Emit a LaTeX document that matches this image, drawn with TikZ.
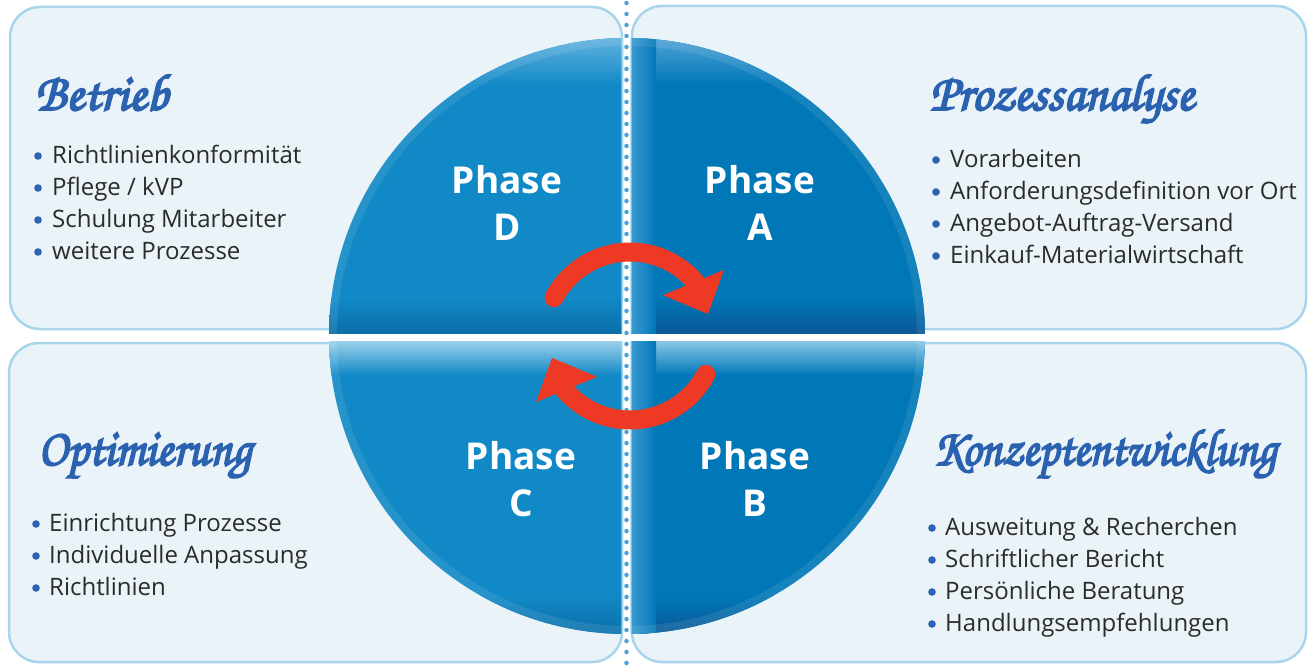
\documentclass[tikz,border=0pt]{standalone}
\usepackage{fontspec}
\usepackage{graphicx}
\setmainfont{Open Sans}
\newfontfamily\titlefont{texgyrechorus-mediumitalic}[Extension=.otf, FakeBold=3.5]
\usetikzlibrary{calc}
\definecolor{panelfill}{HTML}{EAF3F8}
\definecolor{panelborder}{HTML}{A9D5EC}
\definecolor{titleblue}{HTML}{2A62B0}
\definecolor{bulletblue}{HTML}{2B63B5}
\definecolor{textgray}{HTML}{2B2B2B}
\definecolor{qleft}{HTML}{1189C6}
\definecolor{qlefttop}{HTML}{63B3DF}
\definecolor{qleftlight}{HTML}{9ED2EC}
\definecolor{qleftdark}{HTML}{0B6EA8}
\definecolor{qright}{HTML}{0077B7}
\definecolor{qrighttop}{HTML}{4FA3D6}
\definecolor{qrightlight}{HTML}{8CC8E8}
\definecolor{qrightdark}{HTML}{0A5796}
\definecolor{qrighthi}{HTML}{3A9AD0}
\definecolor{dotblue}{HTML}{4AA1D5}
\definecolor{arrowred}{HTML}{EE3A24}
\begin{document}
\begin{tikzpicture}[x=1pt,y=-1pt,
  panel/.style={fill=panelfill, draw=panelborder, line width=2.5pt, rounded corners=30pt},
  titletext/.style={anchor=base west, inner sep=0pt, text=titleblue, font=\titlefont\fontsize{52}{52}\selectfont},
  item/.style={anchor=base west, inner sep=0pt, text=textgray, font=\fontsize{24}{28}\selectfont},
  phase/.style={inner sep=0pt, text=white, align=center, font=\fontsize{37}{47}\selectfont\bfseries},
  redarc/.style={draw=arrowred, line width=19pt, line cap=round},
  dotline/.style={draw=dotblue, line width=4.5pt, dash pattern=on 0pt off 11pt, line cap=round},
  stripeedge/.style={draw=panelborder, line width=1.5pt, opacity=0.6},
  bullet/.style={fill=bulletblue}]
\useasboundingbox (0,0) rectangle (1308,666);
\fill[white] (0,0) rectangle (1308,666);

% panels
\draw[panel] (10,7) rectangle (622,329);
\draw[panel] (632,6) rectangle (1306,329);
\draw[panel] (9,343) rectangle (622,662);
\draw[panel] (632,343) rectangle (1306,662);

% circle quadrants
\begin{scope}
  \clip (627,336) circle[radius=298pt];
  \begin{scope}
    \clip (320,30) rectangle (622,333);
    \fill[qleft] (320,30) rectangle (622,333);
    \shade[top color=qlefttop, bottom color=qleft] (320,37) rectangle (622,85);
    \shade[top color=qleft, bottom color=qleftdark] (320,298) rectangle (622,333.5);
  \end{scope}
  \begin{scope}
    \clip (631,30) rectangle (935,333);
    \fill[qright] (631,30) rectangle (935,333);
    \shade[top color=qrighttop, bottom color=qright] (631,37) rectangle (935,85);
    \shade[top color=qright, bottom color=qrightdark] (631,298) rectangle (935,333.5);
    \shade[left color=qrighthi, right color=qright] (631,30) rectangle (656,333);
  \end{scope}
  \begin{scope}
    \clip (320,341) rectangle (622,640);
    \fill[qleft] (320,341) rectangle (622,640);
    \shade[top color=qleftlight, bottom color=qleft] (320,340.5) rectangle (622,375);
    \shade[top color=qleft, bottom color=qleftdark] (320,595) rectangle (622,636);
  \end{scope}
  \begin{scope}
    \clip (631,341) rectangle (935,640);
    \fill[qright] (631,341) rectangle (935,640);
    \shade[top color=qrightlight, bottom color=qright] (631,340.5) rectangle (935,375);
    \shade[top color=qright, bottom color=qrightdark] (631,595) rectangle (935,636);
    \shade[left color=qrighthi, right color=qright] (631,341) rectangle (656,640);
  \end{scope}
  \draw[white, opacity=0.09, line width=8pt] (627,336) circle[radius=294pt];
  \draw[stripeedge] (622,30) -- (622,333);
  \draw[stripeedge] (631,30) -- (631,333);
  \draw[stripeedge] (622,341) -- (622,640);
  \draw[stripeedge] (631,341) -- (631,640);
\end{scope}

% dotted divider
\draw[dotline] (626.5,3) -- (626.5,666);

% red cycle arrows
\coordinate (ac1) at (630,338);
\coordinate (ac2) at (630,334);
\draw[redarc] ($(ac1)+(152:86pt)$) arc[start angle=152, end angle=40, radius=86pt];
\fill[arrowred] ($(ac1)+(17.1:81.6pt)$) -- ($(ac1)+(52.5:54pt)$) -- ($(ac1)+(35.9:116pt)$) -- cycle;
\draw[redarc] ($(ac2)+(-28:86pt)$) arc[start angle=-28, end angle=-140, radius=86pt];
\fill[arrowred] ($(ac2)+(197.1:81.6pt)$) -- ($(ac2)+(232.5:54pt)$) -- ($(ac2)+(215.9:116pt)$) -- cycle;

% phase labels
\node[phase] (pD) at (507,203) {Phase\\D};
\node[phase] (pA) at (760,203) {Phase\\A};
\node[phase] (pC) at (521,479) {Phase\\C};
\node[phase] (pB) at (755,479) {Phase\\B};

% titles
\node[titletext] (tBetrieb) at (35,110) {\scalebox{0.99}[1]{Betrieb}};
\node[titletext] (tProzess) at (930,110) {\scalebox{0.97}[1]{Prozessanalyse}};
\node[titletext] (tOptim) at (38,465) {\scalebox{0.93}[1]{Optimierung}};
\node[titletext] (tKonzept) at (933,465) {\scalebox{0.895}[1]{Konzeptentwicklung}};

% lists
\foreach \t [count=\i] in {Richtlinienkonformität, Pflege / kVP, Schulung Mitarbeiter, weitere Prozesse}{
  \fill[bullet] (38,{156+32*(\i-1)}) circle[radius=3.8pt];
  \node[item] (tl\i) at (52,{163+32*(\i-1)}) {\t};
}
\foreach \t [count=\i] in {Vorarbeiten, Anforderungsdefinition vor Ort, Angebot-Auftrag-Versand, Einkauf-Materialwirtschaft}{
  \fill[bullet] (936,{160+32*(\i-1)}) circle[radius=3.8pt];
  \node[item] (tr\i) at (950,{167+32*(\i-1)}) {\t};
}
\foreach \t [count=\i] in {Einrichtung Prozesse, Individuelle Anpassung, Richtlinien}{
  \fill[bullet] (36,{524+32*(\i-1)}) circle[radius=3.8pt];
  \node[item] (bl\i) at (49,{531+32*(\i-1)}) {\t};
}
\foreach \t [count=\i] in {Ausweitung \& Recherchen, Schriftlicher Bericht, Persönliche Beratung, Handlungsempfehlungen}{
  \fill[bullet] (932,{528+32*(\i-1)}) circle[radius=3.8pt];
  \node[item] (br\i) at (945,{535+32*(\i-1)}) {\t};
}
\end{tikzpicture}
\end{document}
